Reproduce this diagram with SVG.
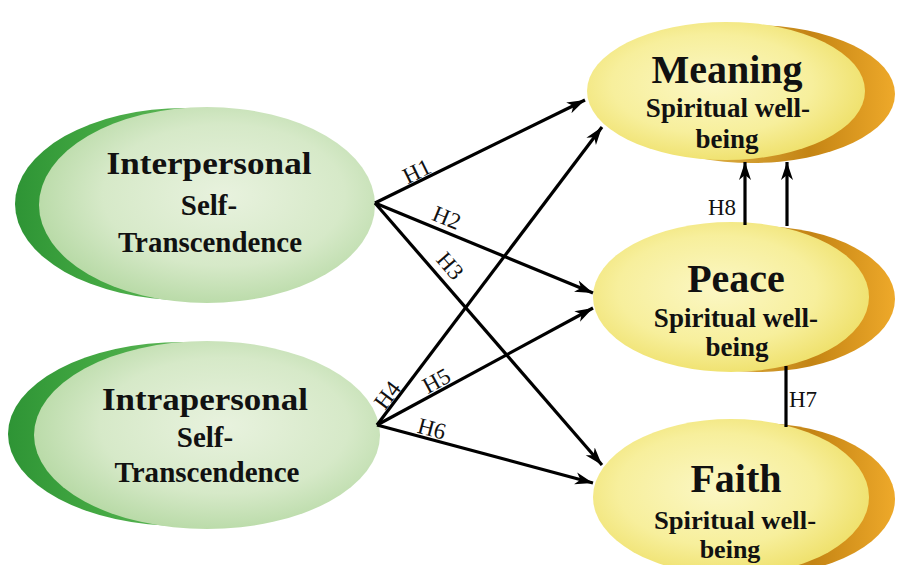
<svg xmlns="http://www.w3.org/2000/svg" width="897" height="565" viewBox="0 0 897 565">
  <defs>
    <!-- green "3D" ellipse: dark back shell + light face -->
    <linearGradient id="gDark" x1="0" y1="0" x2="1" y2="0">
      <stop offset="0" stop-color="#2e9435"/>
      <stop offset="0.25" stop-color="#43a842"/>
      <stop offset="1" stop-color="#8fcf7e"/>
    </linearGradient>
    <radialGradient id="gFace" cx="0.55" cy="0.45" r="0.6">
      <stop offset="0" stop-color="#e8f2de"/>
      <stop offset="0.6" stop-color="#d6e9c8"/>
      <stop offset="1" stop-color="#b4d8a2"/>
    </radialGradient>
    <!-- yellow ellipse with orange back shell -->
    <linearGradient id="yDark" x1="0" y1="0" x2="1" y2="0">
      <stop offset="0" stop-color="#f3d870"/>
      <stop offset="0.7" stop-color="#c48414"/>
      <stop offset="1" stop-color="#eea92a"/>
    </linearGradient>
    <radialGradient id="yFace" cx="0.45" cy="0.45" r="0.6">
      <stop offset="0" stop-color="#fbf7c4"/>
      <stop offset="0.6" stop-color="#f7ef9c"/>
      <stop offset="1" stop-color="#eedf66"/>
    </radialGradient>
    <marker id="arrow" markerUnits="userSpaceOnUse" markerWidth="20" markerHeight="14" refX="18" refY="7" orient="auto">
      <path d="M0,1 L18,7 L0,13 L5,7 Z" fill="#000"/>
    </marker>
    <style>
      .link { stroke: #000; stroke-width: 3.2; fill: none; }
      .arr { marker-end: url(#arrow); }
      .title { font-family: "Liberation Serif", "Times New Roman", serif; font-weight: bold; fill: #111; text-anchor: middle; }
      .big { font-size: 32px; }
      .sub { font-size: 29px; }
      .rbig { font-size: 40px; }
      .rsub { font-size: 27px; }
      .fsub { font-size: 26px; }
      .lbl { font-family: "Liberation Serif", "Times New Roman", serif; font-size: 23px; fill: #111; text-anchor: middle; }
    </style>
  </defs>

  <rect width="897" height="565" fill="#fff"/>

  <!-- source constructs -->
  <g id="interpersonal">
    <ellipse cx="185" cy="204" rx="170" ry="96" fill="url(#gDark)"/>
    <ellipse cx="207" cy="205" rx="168" ry="98" fill="url(#gFace)"/>
    <text class="title big" x="209" y="174" textLength="205" lengthAdjust="spacingAndGlyphs">Interpersonal</text>
    <text class="title sub" x="209" y="215">Self-</text>
    <text class="title sub" x="210" y="252" textLength="184" lengthAdjust="spacingAndGlyphs">Transcendence</text>
  </g>

  <g id="intrapersonal">
    <ellipse cx="182" cy="434" rx="174" ry="92" fill="url(#gDark)"/>
    <ellipse cx="207" cy="435" rx="173" ry="94" fill="url(#gFace)"/>
    <text class="title big" x="205" y="410" textLength="206" lengthAdjust="spacingAndGlyphs">Intrapersonal</text>
    <text class="title sub" x="205" y="447">Self-</text>
    <text class="title sub" x="207" y="482" textLength="185" lengthAdjust="spacingAndGlyphs">Transcendence</text>
  </g>

  <!-- spiritual well-being outcomes -->
  <g id="meaning">
    <ellipse cx="752" cy="94" rx="143" ry="69" fill="url(#yDark)"/>
    <ellipse cx="726" cy="91" rx="139" ry="69" fill="url(#yFace)"/>
    <text class="title rbig" x="727" y="83">Meaning</text>
    <text class="title rsub" x="728" y="117">Spiritual well-</text>
    <text class="title rsub" x="727" y="148">being</text>
  </g>

  <g id="peace">
    <ellipse cx="757" cy="299" rx="138" ry="73" fill="url(#yDark)"/>
    <ellipse cx="731" cy="297" rx="138" ry="75" fill="url(#yFace)"/>
    <text class="title rbig" x="736" y="292">Peace</text>
    <text class="title rsub" x="736" y="327">Spiritual well-</text>
    <text class="title rsub" x="737" y="356">being</text>
  </g>

  <g id="faith">
    <ellipse cx="757" cy="499" rx="138" ry="76" fill="url(#yDark)"/>
    <ellipse cx="731" cy="497" rx="138" ry="78" fill="url(#yFace)"/>
    <text class="title rbig" x="736" y="492">Faith</text>
    <text class="title fsub" x="735" y="529" textLength="162" lengthAdjust="spacingAndGlyphs">Spiritual well-</text>
    <text class="title fsub" x="730" y="558">being</text>
  </g>

  <!-- hypothesised paths -->
  <g id="connectors">
    <line class="link arr" x1="375" y1="203" x2="585" y2="100"/>
    <line class="link arr" x1="375" y1="203" x2="593" y2="293"/>
    <line class="link arr" x1="375" y1="203" x2="602" y2="465"/>
    <line class="link arr" x1="377" y1="425" x2="602" y2="127"/>
    <line class="link arr" x1="377" y1="425" x2="593" y2="308"/>
    <line class="link arr" x1="377" y1="425" x2="593" y2="483"/>
    <line class="link arr" x1="745" y1="225" x2="745" y2="162"/>
    <line class="link arr" x1="787" y1="226" x2="787" y2="162"/>
    <line class="link" x1="786" y1="366" x2="786" y2="427"/>

    <text class="lbl" transform="translate(421,180) rotate(-26.1)" y="-2">H1</text>
    <text class="lbl" transform="translate(441.5,230.4) rotate(22.4)" y="-6">H2</text>
    <text class="lbl" transform="translate(438.3,276.1) rotate(49.1)" y="-8">H3</text>
    <text class="lbl" transform="translate(395.1,401.1) rotate(-52.9)" y="-2">H4</text>
    <text class="lbl" transform="translate(441.5,390.1) rotate(-28.45)" y="-3">H5</text>
    <text class="lbl" transform="translate(429,439) rotate(15)" y="-3">H6</text>
    <text class="lbl" x="722" y="215">H8</text>
    <text class="lbl" x="789" y="407" style="text-anchor:start">H7</text>
  </g>
</svg>
